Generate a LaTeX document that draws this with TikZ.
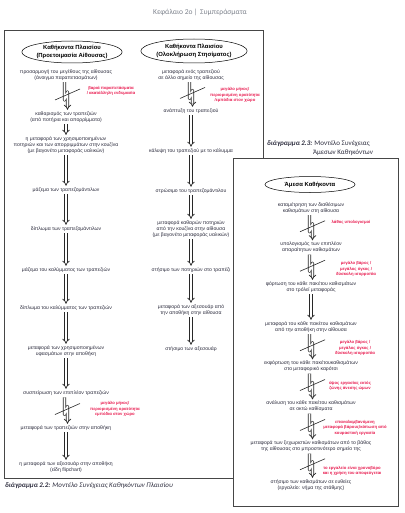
\documentclass[tikz,border=0pt]{standalone}
\usepackage{fontspec}
\setmainfont{Liberation Sans}
\newfontfamily\capfont{Carlito}
\usetikzlibrary{arrows.meta,calc,shapes.geometric}
\definecolor{txt}{RGB}{45,45,62}
\definecolor{warn}{RGB}{232,28,80}
\definecolor{framec}{RGB}{70,70,70}
\definecolor{headc}{RGB}{125,130,140}
\definecolor{arrc}{RGB}{40,40,40}
\tikzset{
  task/.style={font=\fontsize{5.1}{5.9}\selectfont, text=txt, align=center, inner sep=0.6pt, outer sep=1.2pt},
  risk/.style={font=\bfseries\fontsize{4.2}{5.6}\selectfont, text=warn, align=center, inner sep=0pt},
  titleoval/.style={ellipse, draw=black, line width=0.5pt, font=\bfseries\fontsize{5.9}{7.5}\selectfont, align=center, inner sep=0pt},
  arr/.style={draw=arrc, line width=0.75pt, double=white, double distance=1.8pt, line join=round, -{Implies}},
  slash/.style={draw=arrc, line width=0.6pt},
  framebox/.style={draw=framec, line width=0.6pt},
  capt/.style={font=\capfont\fontsize{7}{8}\selectfont, text=txt, inner sep=0pt}
}
\newcommand\brokenarr[2]{%
  \path (#1.south) coordinate (bt) (#2.north) coordinate (bb);
  \coordinate (bm) at ($(bt)!.5!(bb)$);
  \draw[arr] ([xshift=-1.5pt]bt) -- ([xshift=-1.5pt,yshift=-4pt]bm) -- ([xshift=1.5pt,yshift=4pt]bm) -- ([xshift=1.5pt]bb);
  \draw[slash] ([xshift=-11pt,yshift=-4pt]bm) -- ([xshift=14pt,yshift=7pt]bm);
}
\begin{document}
\begin{tikzpicture}[x=1pt,y=-1pt]
\useasboundingbox (0,0) rectangle (404,513);
% header
\node[font=\capfont\fontsize{7.5}{9}\selectfont, text=headc] (hdr) at (200,12) {Κεφάλαιο 2ο\,|\, Συμπεράσματα};
% frames
\draw[framebox] (4,30) rectangle (263,478);
\draw[framebox, fill=white] (233,158) rectangle (398,506);
% captions
\node[capt, anchor=west] (cap22) at (5,486) {\textbf{\textit{διάγραμμα 2.2:}} \textit{Μοντέλο Συνέχειας Καθηκόντων Πλαισίου}};
\node[capt, anchor=west] (cap23a) at (267,144) {\textbf{\textit{διάγραμμα 2.3:}} Μοντέλο Συνέχειας};
\node[capt] (cap23b) at (343,153) {Άμεσων Καθηκόντων};

% left column
\node[titleoval, minimum width=82pt, minimum height=22pt] (L0) at (72,52) {Καθήκοντα Πλαισίου\\(Προετοιμασία Αίθουσας)};
\node[task] (L1) at (66,75) {προσαρμογή του μεγέθους της αίθουσας\\(άνοιγμα παραπετασμάτων)};
\node[task] (L2) at (66,117) {καθαρισμός των τραπεζιών\\(από ποτήρια και απορρίμματα)};
\node[task] (L3) at (66,145) {η μεταφορά των χρησιμοποιημένων\\ποτηριών και των απορριμμάτων στην κουζίνα\\(με βαγονέτο μεταφοράς υαλικών)};
\node[task] (L4) at (66,190) {μάζεμα των τραπεζομάντιλων};
\node[task] (L5) at (66,229) {δίπλωμα των τραπεζομάντιλων};
\node[task] (L6) at (66,270) {μάζεμα του καλύμματος των τραπεζιών};
\node[task] (L7) at (66,308) {δίπλωμα του καλύμματος των τραπεζιών};
\node[task] (L8) at (66,351) {μεταφορά των χρησιμοποιημένων\\υφασμάτων στην αποθήκη};
\node[task] (L9) at (66,393) {συσπείρωση των επιπλέον τραπεζιών};
\node[task] (L10) at (66,428) {μεταφορά των τραπεζιών στην αποθήκη};
\node[task] (L11) at (66,467) {η μεταφορά των αξεσουάρ στην αποθήκη\\(είδη flipchart)};
\node[risk] (La) at (111,91) {βαριά παραπετάσματα\\/ ακατάλληλη ενδυμασία};
\node[risk] (Lb) at (115,409) {μεγάλο μήκος/\\περιορισμένη ορατότητα\\εμπόδια στον χώρο};
\brokenarr{L1}{L2}
\draw[arr] (L2) -- (L3);
\draw[arr] (L3) -- (L4);
\draw[arr] (L4) -- (L5);
\draw[arr] (L5) -- (L6);
\draw[arr] (L6) -- (L7);
\draw[arr] (L7) -- (L8);
\draw[arr] (L8) -- (L9);
\brokenarr{L9}{L10}
\draw[arr] (L10) -- (L11);

% middle column
\node[titleoval, minimum width=90pt, minimum height=24pt] (M0) at (194,51) {Καθήκοντα Πλαισίου\\(Ολοκλήρωση Στησίματος)};
\node[task] (M1) at (191,75) {μεταφορά ενός τραπεζιού\\σε άλλο σημείο της αίθουσας};
\node[task] (M2) at (191,111) {ανάπτυξη του τραπεζιού};
\node[task] (M3) at (191,151) {κάλυψη του τραπεζιού με το κάλυμμα};
\node[task] (M4) at (191,191) {στρώσιμο του τραπεζομάντιλου};
\node[task] (M5) at (191,229) {μεταφορά καθαρών ποτηριών\\από την κουζίνα στην αίθουσα\\(με βαγονέτο μεταφοράς υαλικών)};
\node[task] (M6) at (191,270) {στήσιμο των ποτηριών στο τραπέζι};
\node[task] (M7) at (191,310) {μεταφορά των αξεσουάρ από\\την αποθήκη στην αίθουσα};
\node[task] (M8) at (191,349) {στήσιμο των αξεσουάρ};
\node[risk] (Ma) at (235,95) {μεγάλο μήκος/\\περιορισμένη ορατότητα\\/εμπόδια στον χώρο};
\brokenarr{M1}{M2}
\draw[arr] (M2) -- (M3);
\draw[arr] (M3) -- (M4);
\draw[arr] (M4) -- (M5);
\draw[arr] (M5) -- (M6);
\draw[arr] (M6) -- (M7);
\draw[arr] (M7) -- (M8);

% right panel
\node[titleoval, minimum width=90pt, minimum height=16pt] (R0) at (310,184.5) {Άμεσα Καθήκοντα};
\node[task] (R1) at (311,208) {καταμέτρηση των διαθέσιμων\\καθισμάτων στη αίθουσα};
\node[task] (R2) at (311,247.5) {υπολογισμός των επιπλέον\\απαραίτητων καθισμάτων};
\node[task] (R3) at (311,287) {φόρτωση του κάθε πακέτου καθισμάτων\\στο τρόλεϊ μεταφοράς};
\node[task] (R4) at (311,327) {μεταφορά του κάθε πακέτου καθισμάτων\\από την αποθήκη στην αίθουσα};
\node[task] (R5) at (311,366.5) {εκφόρτωση του κάθε πακέτουκαθισμάτων\\στο μεταφορικό καρότσι};
\node[task] (R6) at (311,406.5) {ανάλυση του κάθε πακέτου καθισμάτων\\σε οκτώ καθίσματα};
\node[task] (R7) at (311,446.5) {μεταφορά των ξεχωριστών καθισμάτων από το βάθος\\της αίθουσας στο μπροστινότερο σημείο της};
\node[task] (R8) at (311,485) {στήσιμο των καθισμάτων σε ευθείες\\(εργαλείο: νήμα της στάθμης)};
\node[risk] (Ra) at (351,222) {λάθος υπολογισμοί};
\node[risk] (Rb) at (356,269) {μεγάλο βάρος /\\μεγάλος όγκος /\\δύσκολη ισορροπία};
\node[risk] (Rc) at (355,348) {μεγάλο βάρος /\\μεγάλος όγκος /\\δύσκολη ισορροπία};
\node[risk] (Rd) at (350,386) {ύψος εργασίας εκτός\\ζώνης άνεσης ώμων};
\node[risk] (Re) at (355,427.5) {επαναλαμβανόμενη\\μεταφορά βάρους/κόπωση από\\κουραστική εργασία};
\node[risk] (Rf) at (352,471) {το εργαλείο είναι χρονοβόρο\\και η χρήση του αποφεύγεται};
\brokenarr{R1}{R2}
\brokenarr{R2}{R3}
\draw[arr] (R3) -- (R4);
\brokenarr{R4}{R5}
\brokenarr{R5}{R6}
\brokenarr{R6}{R7}
\brokenarr{R7}{R8}
\end{tikzpicture}
\end{document}
